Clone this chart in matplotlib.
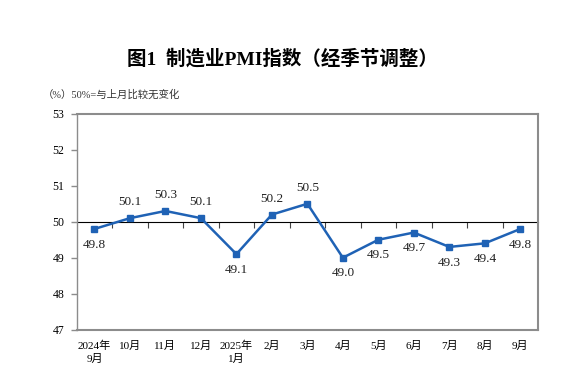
import numpy as np
import matplotlib
matplotlib.use('Agg')
import matplotlib.pyplot as plt

# ---------------- data ----------------
months = ['2024年\n9月', '10月', '11月', '12月', '2025年\n1月', '2月', '3月',
          '4月', '5月', '6月', '7月', '8月', '9月']
pmi = [49.8, 50.1, 50.3, 50.1, 49.1, 50.2, 50.5, 49.0, 49.5, 49.7, 49.3, 49.4, 49.8]
label_above = [False, True, True, True, False, True, True,
               False, False, False, False, False, False]
title = '图1  制造业PMI指数（经季节调整）'
note = '（%）50%=与上月比较无变化'
yticks = [47, 48, 49, 50, 51, 52, 53]

plt.rcParams['font.family'] = ['Liberation Serif', 'Noto Sans CJK SC']
plt.rcParams['axes.unicode_minus'] = False

blue = '#1f62b5'
grey = '#8c8c8c'

fig = plt.figure(figsize=(5.64, 3.86), dpi=100)
ax = fig.add_axes([0.136, 0.146, 0.818, 0.559])

x = np.arange(len(months))
ax.plot(x, pmi, color=blue, lw=1.8, marker='s', ms=4.5, zorder=3)

for xi, v, up in zip(x, pmi, label_above):
    if up:
        ax.annotate('%.1f' % v, (xi, v), xytext=(0, 7), textcoords='offset points',
                    ha='center', va='bottom', fontsize=9.5, color='#222222')
    else:
        ax.annotate('%.1f' % v, (xi, v), xytext=(0, -7), textcoords='offset points',
                    ha='center', va='top', fontsize=9.5, color='#222222')

ax.set_xlim(-0.5, len(months) - 0.5)
ax.set_ylim(47, 53)
ax.set_yticks(yticks)
ax.set_xticks(x)
ax.set_xticklabels(months, fontsize=8, linespacing=1.4)
ax.tick_params(axis='x', length=0, pad=8)
ax.tick_params(axis='y', length=4, width=1, color=grey, labelsize=8.5, pad=5)

for s in ax.spines.values():
    s.set_color(grey)
    s.set_linewidth(1.5)
ax.spines['left'].set_linewidth(1.0)

# 50 reference line with category ticks
sec = ax.secondary_xaxis(0.5)
sec.spines['bottom'].set_color('black')
sec.spines['bottom'].set_linewidth(1.0)
sec.set_xticks(np.arange(0.5, len(months) - 1, 1.0))
sec.set_xticklabels([])
sec.tick_params(direction='in', length=4, width=0.8, color='#444444')

fig.text(0.5, 0.849, title, ha='center', va='center', fontsize=14, fontweight='bold')
fig.text(0.075, 0.754, note, ha='left', va='center', fontsize=7.5, color='#333333')

fig.savefig('out.png', dpi=100)
